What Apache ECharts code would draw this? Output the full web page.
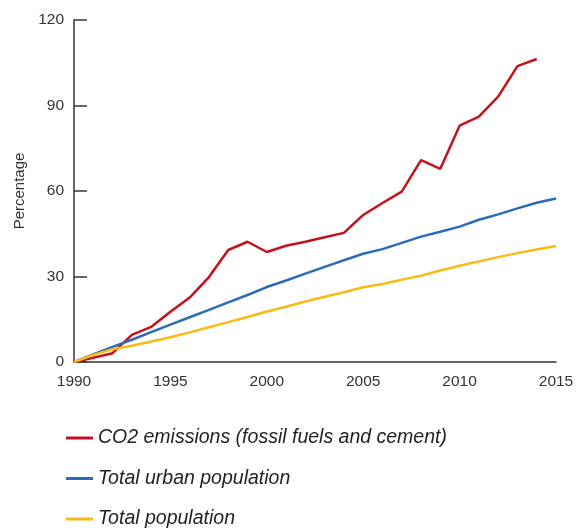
<!DOCTYPE html>
<html>
<head>
<meta charset="utf-8">
<script src="https://cdn.jsdelivr.net/npm/echarts@6/dist/echarts.min.js"></script>
<style>html,body{margin:0;padding:0;background:#fff;}#c{width:585px;height:530px;}</style>
</head>
<body>
<div id="c"></div>
<script>
const years = [1990,1991,1992,1993,1994,1995,1996,1997,1998,1999,2000,2001,2002,2003,2004,2005,2006,2007,2008,2009,2010,2011,2012,2013,2014,2015];
const co2 = [0,1.5,3.1,9.5,12.3,17.6,22.6,29.8,39.3,42.2,38.6,40.8,42.2,43.8,45.3,51.6,55.8,59.8,70.8,67.8,82.9,86.1,93.1,103.8,106.3,null];
const urban = [0,2.7,5.3,7.8,10.5,13.1,15.7,18.3,20.9,23.5,26.3,28.6,31,33.4,35.7,38,39.6,41.8,44,45.7,47.5,49.9,51.8,53.9,55.9,57.4];
const totalPop = [0,2.5,4.5,5.7,7.2,8.7,10.4,12.2,14,15.8,17.7,19.4,21.2,22.9,24.5,26.2,27.4,28.9,30.3,32.1,33.8,35.3,36.8,38.2,39.5,40.7];
const seriesNames = ['CO2 emissions (fossil fuels and cement)','Total urban population','Total population'];
const yTicks = [0,30,60,90,120];

function pairs(vals){ return years.map((y,i)=>[y, vals[i]]).filter(p=>p[1]!==null); }

const chart = echarts.init(document.getElementById('c'));
const font = 'Liberation Sans, Helvetica, Arial, sans-serif';
chart.setOption({
  animation:false,
  color:['#c4121d','#2b6cb6','#fdb913'],
  grid:{left:74,right:29,top:20,bottom:168},
  xAxis:{type:'value',min:1990,max:2015,interval:5,
    axisLine:{show:true,lineStyle:{color:'#333',width:1.5}},
    axisTick:{show:false},splitLine:{show:false},
    axisLabel:{color:'#333',fontSize:15.5,fontFamily:font,margin:12,formatter:v=>String(v)}},
  yAxis:{type:'value',min:0,max:120,interval:30,
    name:'Percentage',nameLocation:'middle',nameGap:41,nameRotate:90,
    nameTextStyle:{color:'#333',fontSize:15,fontFamily:font},
    axisLine:{show:true,lineStyle:{color:'#333',width:1.5}},
    axisTick:{show:true,inside:true,length:13,lineStyle:{color:'#333',width:1.5}},
    splitLine:{show:false},
    axisLabel:{color:'#333',fontSize:15.5,fontFamily:font,margin:10,
      formatter:v=>yTicks.includes(v)?String(v):''}},
  legend:{orient:'vertical',left:66,top:428,padding:0,itemGap:20.5,itemWidth:27,itemHeight:3,
    icon:'rect',itemTextGap:12,
    textStyle:{color:'#222',fontSize:19.5,lineHeight:20,fontStyle:'italic',fontFamily:font},
    data:seriesNames},
  series:[
    {name:seriesNames[0],type:'line',data:pairs(co2),showSymbol:false,lineStyle:{width:2.5}},
    {name:seriesNames[1],type:'line',data:pairs(urban),showSymbol:false,lineStyle:{width:2.5}},
    {name:seriesNames[2],type:'line',data:pairs(totalPop),showSymbol:false,lineStyle:{width:2.5}}
  ]
});
</script>
</body>
</html>
